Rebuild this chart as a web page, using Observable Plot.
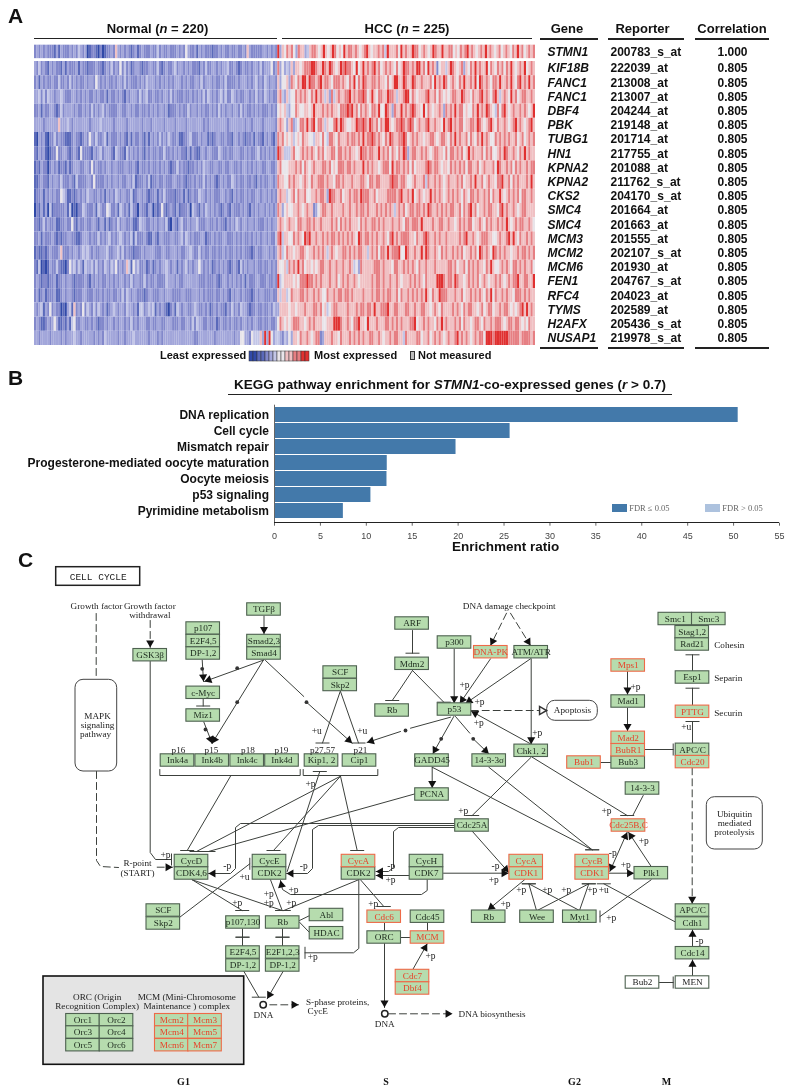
<!DOCTYPE html>
<html><head><meta charset="utf-8">
<script src="https://cdn.jsdelivr.net/npm/d3@7"></script>
<script src="https://cdn.jsdelivr.net/npm/@observablehq/plot@0.6"></script>
<style>
html,body{margin:0;padding:0;background:#fff}
#page{position:relative;width:792px;height:1092px;overflow:hidden;font-family:"Liberation Sans",Arial,sans-serif;color:#111}
#page svg{position:absolute;overflow:visible;background:transparent;max-width:none;will-change:transform}
.t{position:absolute;line-height:1;white-space:nowrap}
.l{position:absolute;background:#222}
</style></head><body><div id="page"></div>
<script>
// ---------- Panel A data ----------
const genes=["KIF18B","FANC1","FANC1","DBF4","PBK","TUBG1","HN1","KPNA2","KPNA2","CKS2","SMC4","SMC4","MCM3","MCM2","MCM6","FEN1","RFC4","TYMS","H2AFX","NUSAP1"];
const reporters=["222039_at","213008_at","213007_at","204244_at","219148_at","201714_at","217755_at","201088_at","211762_s_at","204170_s_at","201664_at","201663_at","201555_at","202107_s_at","201930_at","204767_s_at","204023_at","202589_at","205436_s_at","219978_s_at"];
const correlations=["0.805","0.805","0.805","0.805","0.805","0.805","0.805","0.805","0.805","0.805","0.805","0.805","0.805","0.805","0.805","0.805","0.805","0.805","0.805","0.805"];
const seedGene="STMN1", seedReporter="200783_s_at", seedCorrelation="1.000";
const nNormal=220, nHCC=225;
// Expression levels read by eye, one digit per stripe: 1 = least expressed, 9 = most expressed
const seedNormal="34343433324243334343543412332131233437434343234234333433534334333434364334243433323343433433433437433333443434394";
const seedHCC="768786487745788767976798676978878767897677878597778697877988678767987797788676878978767879787678678768797867878";
const rowsNormal=[
"43534324343324243334243323334332343534363534234432334433532343345344343433324353344343445334323433434435344463484",
"34243433433533435343433434436434343343443534333434354443434343434443434334435344434334353333434443434534354344374",
"44535354434454333443434343343433424334343243444353453343343443534333433434343535434345353354343344343534354343378",
"33424334432353444434334343534345343333443344343343343434344342333434335344343433434353434434435343343434333434367",
"44443444444744454344444443444454444434444434444443444344444344443444434444444343444444443444444434434444344444378",
"21434213353433222343323436435334524333434324243343242434353435433422334533343442323443343324434323342433243432487",
"32434212336334432343263333243453444325433253434343243433433533434343324243224434433354334334443343433453434343498",
"23243313434233242344433443634334344344333443343243343433434343233534332334343544334433433443343443434344334433478",
"22343324344353334325333344363333434344343344352333435233433433344334323343433534343234343354343343343243433443487",
"23342434343365422323434354433434243435434433523443432334243533332334242343354434343334434324343343433443443434378",
"13242415233333425121335433342543365334254342533143324413236323432423334154324354343432343243334343243434434343487",
"33235343342233433632433433443244242343534433422354433434344352143245334344533344334343324343543443443433343434478",
"33424333432323344332234443433534345343454343525333432243244333443345354343334423343433443334343433434343443433589",
"23223234333473334344345454343344453344535343323334344443334433444343344543353433433433434334343433323433444343478",
"32512124335322136453542544535343543546343475264533423423434454344243453434464343423434343234325343443433433434376",
"34323323342334344323333432434343343434344343534433534334333354443433444444433343334323443434343424333443334334395",
"34234233342234344323334433343343433433435354344333234433344344433334433344434343334334343243443433323434433343375",
"43452436343312145273436354353543423454344354434255345452434321342543443345433434234343324353435443233433433435447",
"34322343464223242563344334343233434434344343534344433433443344433343344353544334334234334343343443434433433433468",
"44344443444434344454434444434343544444344344454444443444343444444444444443344444443444444443446644365557494964554"];
const rowsHCC=[
"64547477678889987798798767989887696797878978678787686798878799786978736775798767847687978779687687868797678796787",
"66748768799798878978876888787687968798778878776867997798779877877786978798678768797787969878768879778797689787978",
"54756687878768797875748578778897878898679768877988757789968767778977868767678877987768778978768975787697867887787",
"67546687667767977787878776888989786878768879669874877978789877696876778748787978867668797879876586897678778787679",
"76478456887978968875766897987667798898798786879976788987898678778977877697897878867788798767897687787678978767897",
"86767567687766577686588768777878878797889878768798778898678787767788767887687978778687687978766878787877867867878",
"75557866787878768786778868878787767988788779787868768798478877878767887768688787867978777868786678798778768797877",
"66677787868767877788786768887887877797878776788869788787868677778987887677687878786887786787778698778786878778788",
"76687877678768778887877688787778777887688788777789887887667877785877878767877787867787977867877688977868787778797",
"77567868778667787887498877867787887988877867777888878977879678767797878767878787687688787787868779767878786887787",
"46766778767877346788778777787787787887877787878787578786788788787987787878788778687897867787887768978778767887777",
"76787768877887877877778786878787776878778878787778778768878887977778778877877678787886778768787787879767878877876",
"57766878769897787787878878787878769878878787787689787888877687789877878778777778789778767888776678778979768778787",
"56877677887677878787578767788787878877578786887978889669877877979877876878778787867787869878769878787767787887878",
"67587879786776767887787787787787564877777888787776887787878768778777877777887867786878787768797667878768878787786",
"67777676888988787877787786787877876777778788787787787677787878768777799987887987767878786787677878767878897788779",
"77568777887877878766877878878878777787778788787887786877878787879768779888777877867787878768796877878776888787877",
"77767767778777887867567887777877787887887977888977887778877877887767876877778787687887767867886778788767678979787",
"76767888776787877766777999877876889776977787778878787877788967787877687978777878687767887687787888767887887676877",
"35464776877876788347778776877787878787788778767787887758777788677867878767877897878767878869998999999888887888878"];
const levels=[1,2,3,4,5,6,7,8,9];
const levelColors=["#3049a8","#5a69ba","#8288cb","#a2a6da","#c3c6e7","#e9e5ea","#f0c0c3","#e67f83","#e03030"];
const legendLevels=[1,1,2,2,3,4,5,6,6,7,7,8,8,9,9];

// ---------- Panel B data ----------
const pathways=["DNA replication","Cell cycle","Mismatch repair","Progesterone-mediated oocyte maturation","Oocyte meiosis","p53 signaling","Pyrimidine metabolism"];
const enrichment=[50.5,25.66,19.77,12.28,12.25,10.5,7.5];
const enrichTicks=[0,5,10,15,20,25,30,35,40,45,50,55];

// ---------- Panel C data (pathway diagram, in diagram units) ----------
// label, centre x, centre y, state: g = measured, r = highlighted, w = not in set
const nodes=[
["TGFβ",263.5,609,"g"],["Smad2,3",263.5,640.5,"g"],["Smad4",263.5,653,"g"],
["p107",202.7,628,"g"],["E2F4,5",202.7,640.5,"g"],["DP-1,2",202.7,653,"g"],
["c-Myc",202.7,692.3,"g"],["Miz1",202.7,715,"g"],["SCF",339.7,672,"g"],["Skp2",339.7,684.5,"g"],
["GSK3β",149.7,654.7,"g"],["Ink4a",177,760,"g"],["Ink4b",211.7,760,"g"],["Ink4c",246.7,760,"g"],["Ink4d",281.5,760,"g"],
["Kip1, 2",321,760,"g"],["Cip1",359,760,"g"],["Rb",391.6,710,"g"],["ARF",411.6,623,"g"],["Mdm2",411.6,663.3,"g"],
["p300",454,642,"g"],["DNA-PK",490.3,651.7,"r"],["ATM/ATR",530.7,651.7,"g"],["p53",454,709,"g"],["Chk1, 2",530.7,750.3,"g"],
["GADD45",431.5,760,"g"],["14-3-3σ",488.7,760,"g"],["PCNA",431.5,794,"g"],["14-3-3",642,788,"g"],
["Cdc25A",471.5,825,"g"],["Cdc25B,C",628,825,"r"],["Mps1",627.7,665,"r"],["Mad1",627.7,701,"g"],
["Bub3",627.7,762,"g"],["Mad2",627.7,737.3,"r"],["BubR1",627.7,749.7,"r"],["Bub1",583.5,762,"r"],
["Smc1",674.8,618.5,"g"],["Smc3",708.3,618.5,"g"],["Stag1,2",691.7,631.7,"g"],["Rad21",691.7,644,"g"],
["Esp1",692,677,"g"],["PTTG",692,711.3,"r"],["APC/C",692,749.3,"g"],["Cdc20",692,761.6,"r"],
["CycD",191,860.5,"g"],["CDK4,6",191,873,"g"],["CycE",269,860.5,"g"],["CDK2",269,873,"g"],
["CDK2",358,873,"g"],["CycA",358,860.5,"r"],
["SCF",162.8,910,"g"],["Skp2",162.8,923,"g"],["p107,130",242.5,922,"g"],["Rb",282.2,922,"g"],["Abl",326,914.5,"g"],["HDAC",326,932.7,"g"],
["E2F4,5",242.5,952,"g"],["DP-1,2",242.5,965,"g"],["E2F1,2,3",282.2,952,"g"],["DP-1,2",282.2,965,"g"],
["ORC",383.7,937,"g"],["Cdc6",383.7,916.2,"r"],["Cdc45",427,916.2,"g"],["MCM",427,937,"r"],["Cdc7",412,975.5,"r"],["Dbf4",412,988,"r"],
["CycH",426,860.5,"g"],["CDK7",426,873,"g"],["CycA",525.7,860.5,"r"],["CDK1",525.7,873,"r"],["CycB",591.7,860.5,"r"],["CDK1",591.7,873,"r"],
["Plk1",650.8,872.7,"g"],["Rb",488.2,916.2,"g"],["Wee",536.5,916.2,"g"],["Myt1",579.3,916.2,"g"],
["APC/C",692,910,"g"],["Cdh1",692,923,"g"],["Cdc14",692,952.7,"g"],["Bub2",642,982,"w"],["MEN",692,982,"w"],
["Orc1",82.5,1019.7,"g"],["Orc2",116,1019.7,"g"],["Orc3",82.5,1032,"g"],["Orc4",116,1032,"g"],["Orc5",82.5,1044.7,"g"],["Orc6",116,1044.7,"g"],
["Mcm2",171.3,1019.7,"r"],["Mcm3",204.5,1019.7,"r"],["Mcm4",171.3,1032,"r"],["Mcm5",204.5,1032,"r"],["Mcm6",171.3,1044.7,"r"],["Mcm7",204.5,1044.7,"r"]];
// kind, then the path: a arrow, t flat bar, v upright bar, n plain, b arrow at both ends; d prefix = dashed, o = dashed with open head
const edges=[
["a",263.5,615.5,263.5,633.5],["a",263.3,659.5,204,681],["a",201.7,659.5,203,681],["t",202.7,698.7,202.7,705.5],
["a",203.3,721.5,211.7,743],["a",263,659.5,211.5,743],["n",265,660,303.3,696],["a",306,701.7,351.7,742.7],
["t",339.7,691,322,742.5],["t",340,691,358,742.5],["n",450,716.7,410,727.7],["a",400,731,366.5,742],
["n",159.3,769,159.3,775,299.7,775,299.7,769],["n",302.7,769,302.7,775,377.3,775,377.3,769],
["t",230,775.7,186.7,850],["t",286.7,871,319.3,771],["t",340,775.7,196,851],["t",340,775.7,273,850],["t",340,775.7,356.7,850],["t",414.7,793.3,208,851],
["a",454.7,823,240,823,235,827,235,868,230,873,208,873],["a",454.7,825,318,825,312,829,312,868,307,873,286,873],
["a",454.7,827,398,827,393,831,393,867,388,871,375.5,871],["a",409.5,875,375.5,875],
["a",426.7,879.3,426.7,890,421,894,290,894,282,889,280,880],
["a",471.7,830.7,508.3,872],["a",443,872.7,508,872.7],["a",524,879.3,487.3,909.5],
["t",536,910,528.3,883.3],["t",579,910,528.3,883.3],["t",536.7,910,588.3,883.3],["t",579,910,588.3,883.3],["t",675.3,921.7,603.3,883.3],
["v",650.7,879.3,599.5,916],["a",608.7,872.7,633.5,872.7],["a",650.7,866,628,831.7],["b",626.7,831.7,609.3,871],
["t",488.3,766.7,591.7,849.3],["t",431.7,766.7,591.7,849.3],["t",530.7,756.7,471.7,815],["t",531.7,756.7,626.7,815],["n",642.7,795,632.3,815],
["a",431.7,766.7,431.7,787.5],["a",453.3,716,432.3,753.3],["n",455,716,469.3,732.7],["a",472.7,738.3,488.3,753.3],
["a",530,743.3,470.7,710.7],["a",530.7,658.3,530.7,743.7],["a",530,658.3,465,703],["a",490,658.3,459.3,703],["a",453.7,648.7,453.7,702.7],
["t",412,670,443.3,701.7],["n",412,670,400,688],["t",400,688,391.7,700],["t",412,630,412,652.7],
["da",506,612.7,490,645],["da",510,612.7,530,645],["o",470.7,710,546,710],
["a",627,671,627,694],["a",627,707.7,627,730.5],["v",644.3,749,672.7,749],["n",600.3,762,611,762],
["t",692,671,692,654.3],["t",692,705,692,687.7],["t",692,743,692,721],["da",691.7,767.3,691.7,903.3],
["a",692,946,692,929.3],["a",692,975,692,959.3],["v",658.7,982,672.7,982],
["n",427,922.3,427,930.3],["n",400.7,937,410,937],["a",412.7,968.3,426.7,943.3],["n",384,922.7,384,930.3],["a",384,943,384,1007],
["da",388,1013.3,452,1013.3],["da",269.3,1004.3,298,1004.3],["a",282.7,970.7,266.7,998.3],["t",243.3,970.7,258.3,996.7],
["t",282,928.5,282,936.7],["n",282,936.7,282,945.7],["t",242,928.5,242,936.7],["n",242,936.7,242,945.7],
["v",358.3,879.3,358.3,948,353,952.3,304.5,952.3],["t",360,879.3,383.3,906],["t",358,879.3,283.3,910],["t",270,879.3,281.7,910],["t",191.7,879.3,281.7,910],["t",191.7,879.3,241.7,910],
["v",179.3,916.7,249.3,863.3],["n",299,920,309.3,915],["n",299,921.7,309.3,932.3],
["v",149.7,661,149.7,852,155,859,171,859],["da",156.7,866.7,172,866.7],["dn",96,771,96,860,100,866,118,867],["da",149.7,620,149.7,647],["dn",95.7,613,95.7,679]];
const smallDots=[[236.7,667.7],[201.7,668.3],[205,729],[236.7,701.7],[306,701.7],[405,730],[440.7,738.3],[472.7,738.3]];
const edgeLabels=[["+u",316.3,730],["+u",361.7,730],["+p",310,783],["+p",165,854],["-p",226.7,865],["-p",303.3,865.7],["-p",390.7,865],["+p",293,889],["+p",390,879.3],
["-p",495,865.7],["+p",493.3,879.3],["+p",505,903.3],["+p",520.7,889.3],["+p",546.7,889.3],["+p",565.7,889.3],["+p",591.7,889.3],["+u",603.3,889.3],["+p",610.7,917.7],["+p",625.3,864.3],["+p",643.3,840.7],["-p",612.3,852.3],
["+p",462.7,810],["+p",606,810],["+p",478.3,722.7],["+p",536.7,732],["+p",479,701.7],["+p",464,684.3],["+p",635,686],["+u",685.7,726],["-p",699,940],["+p",430,955],
["+p",312.3,956.7],["+p",372.7,903.3],["+p",290.7,902.3],["+p",268.3,893],["+p",268.3,902.3],["+p",236.7,902.3],["+u",244,876.7]];
const diagramLabels=[["Growth factor",96,605.7],["Growth factor",149.3,605.7],["withdrawal",149.3,614.3],["DNA damage checkpoint",508.7,605.7],
["p16",178,749.5],["p15",211,749.5],["p18",247.5,749.5],["p19",281,749.5],["p27,57",322,749.5],["p21",360,749.5],
["R-point",137,863],["(START)",137,872.5],["DNA",263,1015],["DNA",384.3,1024],
["MAPK",97,716],["signaling",97,725],["pathway",95,734],["Ubiquitin",734,814],["mediated",734,823],["proteolysis",734,832],["Apoptosis",572,710],
["ORC (Origin",96.7,996.5],["Recognition Complex)",96.7,1005.5],["MCM (Mini-Chromosome",186.3,996.5],["Maintenance ) complex",186.3,1005.5]];
const sideLabels=[["Cohesin",713.7,645],["Separin",713.7,678],["Securin",713.7,712.5],["DNA biosynthesis",458,1014],["S-phase proteins,",305.5,1002],["CycE",307,1011]];
const phases=[["G1",183],["S",385.5],["G2",574],["M",666]];
const roundBoxes=[[75,679.3,116.7,771],[706.3,796.7,762.3,849],[546.7,700.3,597.3,720.3]];
const dnaCircles=[[262.7,1004.3],[384.3,1013.3]];

// ---------- helpers ----------
const page=document.getElementById("page");
function label(html,x,base,size,o={}){const d=document.createElement("div");d.className="t";d.innerHTML=html;
 d.style.fontSize=size+"px";d.style.left=x+"px";d.style.top=(base-0.8465*size)+"px";
 d.style.fontWeight=o.weight||"bold";if(o.family)d.style.fontFamily=o.family;if(o.color)d.style.color=o.color;
 if(o.anchor==="middle")d.style.transform="translateX(-50%)";page.appendChild(d);}
function hline(x1,x2,y,h=1.2){const d=document.createElement("div");d.className="l";d.style.cssText=`left:${x1}px;width:${x2-x1}px;top:${y-h/2}px;height:${h}px`;page.appendChild(d);}
function place(svg,x,y){svg.style.left=x+"px";svg.style.top=y+"px";page.appendChild(svg);}

// ---------- Panel A ----------
function stripes(str,from,span,y1,y2){return Array.from(str,(c,i)=>({s1:from+i/str.length*span,s2:from+(i+1)/str.length*span,y1,y2,level:+c}));}
const heat=[...stripes(seedNormal,0,nNormal,-1.15,-0.2),...stripes(seedHCC,nNormal,nHCC,-1.15,-0.2)];
rowsNormal.forEach((r,i)=>heat.push(...stripes(r,0,nNormal,i,i+1)));
rowsHCC.forEach((r,i)=>heat.push(...stripes(r,nNormal,nHCC,i,i+1)));
const tableRows=[{gene:seedGene,rep:seedReporter,cor:seedCorrelation,y:-0.675},...genes.map((g,i)=>({gene:g,rep:reporters[i],cor:correlations[i],y:i+0.5}))];
const tableFont={fontFamily:"Liberation Sans",fontSize:12,fontWeight:"bold",fill:"#111",x:()=>nNormal+nHCC};
place(Plot.plot({width:792,height:350,marginTop:0,marginBottom:0,marginLeft:34,marginRight:257,
 x:{domain:[0,nNormal+nHCC],axis:null},y:{domain:[-61/14.2,(350-61)/14.2],range:[0,350],axis:null},
 color:{type:"ordinal",domain:levels,range:levelColors},
 marks:[Plot.rect(heat,{x1:"s1",x2:"s2",y1:"y1",y2:"y2",fill:"level"}),
  Plot.text(tableRows,{...tableFont,y:"y",text:"gene",dx:12,textAnchor:"start",fontStyle:"italic"}),
  Plot.text(tableRows,{...tableFont,y:"y",text:"rep",dx:75,textAnchor:"start"}),
  Plot.text(tableRows,{...tableFont,y:"y",text:"cor",dx:197,textAnchor:"middle"})]}),0,0);
label("A",8,23,21);
label("Normal (<i>n</i> = 220)",157.5,33,13,{anchor:"middle"});
label("HCC (<i>n</i> = 225)",407,33,13,{anchor:"middle"});
label("Gene",567,33,13,{anchor:"middle"});label("Reporter",642.5,33,13,{anchor:"middle"});label("Correlation",732,33,13,{anchor:"middle"});
hline(34,277,38.5);hline(282,532,38.5);
for(const y of [39,348]){hline(540,598,y);hline(608,684,y);hline(695,769,y);}
label("Least expressed",160,359.5,11);
label("Most expressed",314,359.5,11);
label("Not measured",418,359.5,11);
place(Plot.plot({width:64,height:10,margin:0,x:{type:"band",domain:d3.range(legendLevels.length),axis:null,padding:0},y:{axis:null},
 color:{type:"ordinal",domain:levels,range:levelColors},
 marks:[Plot.cell(legendLevels,{x:(d,i)=>i,fill:d=>d,stroke:"#333",strokeWidth:0.5})]}),247,351);
const nm=document.createElement("div");nm.style.cssText="position:absolute;left:410px;top:351px;width:5px;height:9px;background:#bdbdbd;border:1px solid #333;box-sizing:border-box";page.appendChild(nm);

// ---------- Panel B ----------
const bars=pathways.map((p,i)=>({p,v:enrichment[i]}));
place(Plot.plot({width:792,height:190,marginTop:39.7,marginBottom:32.3,marginLeft:274,marginRight:13,
 x:{domain:[0,55]},y:{domain:pathways,range:[39.7,155.9],padding:0.07},
 marks:[Plot.barX(bars,{x:"v",y:"p",fill:"#4379aa"}),
  Plot.ruleX([0],{stroke:"#666"}),
  Plot.axisX({ticks:enrichTicks,tickSize:3,fontSize:9,label:null,fill:"#444",stroke:"#666",fontFamily:"Liberation Sans"}),
  Plot.axisY({tickSize:0,tickPadding:5.5,fontSize:12,fontWeight:"bold",fontFamily:"Liberation Sans",fill:"#111",label:null,lineWidth:40})]}),0,365);
hline(274,779,522.7,1);
label("B",8,385,21);
label("KEGG pathway enrichment for <i>STMN1</i>-co-expressed genes (<i>r</i> &gt; 0.7)",450,389.5,13.5,{anchor:"middle"});
hline(227.5,672,394.3,1.2);
label("Enrichment ratio",505.6,551.5,13.5,{anchor:"middle"});
for(const [x,c,t] of [[611.7,"#4379aa","FDR ≤ 0.05"],[704.8,"#adc2de","FDR &gt; 0.05"]]){
 const s=document.createElement("div");s.style.cssText=`position:absolute;left:${x}px;top:503.7px;width:15.3px;height:8.3px;background:${c}`;page.appendChild(s);
 label(t,x+17.5,511,8.5,{weight:"normal",family:"Liberation Serif",color:"#666"});}

// ---------- Panel C ----------
const W=33.6,H=12.4,serif="Liberation Serif";
const paths=[],heads=[],bars2=[];
edges.forEach((e,id)=>{const k=e[0],pts=[];for(let i=1;i<e.length;i+=2)pts.push([e[i],e[i+1]]);
 const dashed=k==="da"||k==="dn"||k==="o";
 pts.forEach(p=>paths.push({id,x:p[0],y:p[1],dashed}));
 const [x2,y2]=pts[pts.length-1],[x1,y1]=pts[pts.length-2],L=Math.hypot(x2-x1,y2-y1);
 const hd=(tx,ty,ax,ay,LL)=>({x:tx-(tx-ax)/LL*4.6,y:ty-(ty-ay)/LL*4.6,rot:Math.atan2(tx-ax,-(ty-ay))*180/Math.PI});
 if(k==="a"||k==="da"||k==="b"||k==="o")heads.push({...hd(x2,y2,x1,y1,L),open:k==="o"});
 if(k==="b")heads.push({...hd(x1,y1,x2,y2,L),open:false});
 if(k==="t")bars2.push({x1:x2-7,x2:x2+7,y1:y2,y2});
 if(k==="v")bars2.push({x1:x2,x2,y1:y2-6,y2:y2+6});
});
bars2.push({x1:275,x2:289,y1:936.7,y2:936.7},{x1:235,x2:249,y1:936.7,y2:936.7});
const nd=nodes.map(([t,cx,cy,s])=>({t,cx,cy,s,x1:cx-W/2,x2:cx+W/2,y1:cy-H/2,y2:cy+H/2}));
const fillOf={g:"#b6dcae",r:"#b6dcae",w:"#ffffff"},strokeOf={g:"#4e6150",r:"#ee6a48",w:"#4e6150"},textOf={g:"#1d2b1e",r:"#e8432a",w:"#222"};
const serifText={fontFamily:serif,fontSize:9.2};
place(Plot.plot({width:792,height:537,margin:0,x:{domain:[0,792],range:[0,792],axis:null},y:{domain:[555,1092],range:[0,537],axis:null},
 marks:[
  Plot.rect([[43,976,243.7,1064.3]],{x1:d=>d[0],y1:d=>d[1],x2:d=>d[2],y2:d=>d[3],fill:"#e4e4e4",stroke:"#111",strokeWidth:1.6}),
  Plot.rect([[55.7,566.7,139.7,585.3]],{x1:d=>d[0],y1:d=>d[1],x2:d=>d[2],y2:d=>d[3],fill:"#fff",stroke:"#222",strokeWidth:1.5}),
  Plot.text(["CELL CYCLE"],{x:()=>97.7,y:()=>576,text:d=>d,fontFamily:"Liberation Mono",fontSize:9.5,fill:"#222"}),
  Plot.rect(roundBoxes,{x1:d=>d[0],y1:d=>d[1],x2:d=>d[2],y2:d=>d[3],rx:8,fill:"#fff",stroke:"#444"}),
  Plot.line(paths.filter(d=>!d.dashed),{x:"x",y:"y",z:"id",stroke:"#3c403c",strokeWidth:1}),
  Plot.line(paths.filter(d=>d.dashed),{x:"x",y:"y",z:"id",stroke:"#3c403c",strokeWidth:1,strokeDasharray:"7,4"}),
  Plot.dot(heads.filter(d=>!d.open),{x:"x",y:"y",rotate:"rot",symbol:"triangle",r:3,fill:"#111",stroke:"none"}),
  Plot.dot(heads.filter(d=>d.open),{x:"x",y:"y",rotate:"rot",symbol:"triangle",r:3,fill:"#fff",stroke:"#333"}),
  Plot.link(bars2,{x1:"x1",y1:"y1",x2:"x2",y2:"y2",stroke:"#3c403c",strokeWidth:1}),
  Plot.dot(smallDots,{x:d=>d[0],y:d=>d[1],r:1.9,fill:"#333",stroke:"none"}),
  Plot.dot(dnaCircles,{x:d=>d[0],y:d=>d[1],r:3.2,fill:"#fff",stroke:"#222"}),
  Plot.rect(nd,{x1:"x1",y1:"y1",x2:"x2",y2:"y2",fill:d=>fillOf[d.s],stroke:d=>strokeOf[d.s],strokeWidth:1.1}),
  Plot.text(nd,{x:"cx",y:"cy",text:"t",fill:d=>textOf[d.s],...serifText}),
  Plot.text(edgeLabels.map(d=>({t:d[0],x:d[1],y:d[2]})),{x:"x",y:"y",text:"t",fill:"#222",fontFamily:serif,fontSize:9.5}),
  Plot.text(diagramLabels.map(d=>({t:d[0],x:d[1],y:d[2]})),{x:"x",y:"y",text:"t",fill:"#222",...serifText}),
  Plot.text(sideLabels.map(d=>({t:d[0],x:d[1],y:d[2]})),{x:"x",y:"y",text:"t",fill:"#222",textAnchor:"start",...serifText}),
  Plot.text(phases,{x:d=>d[1],y:()=>1081.5,text:d=>d[0],fontFamily:serif,fontSize:10,fontWeight:"bold",fill:"#111"})
 ]}),0,555);
label("C",18,567,21);
</script></body></html>
